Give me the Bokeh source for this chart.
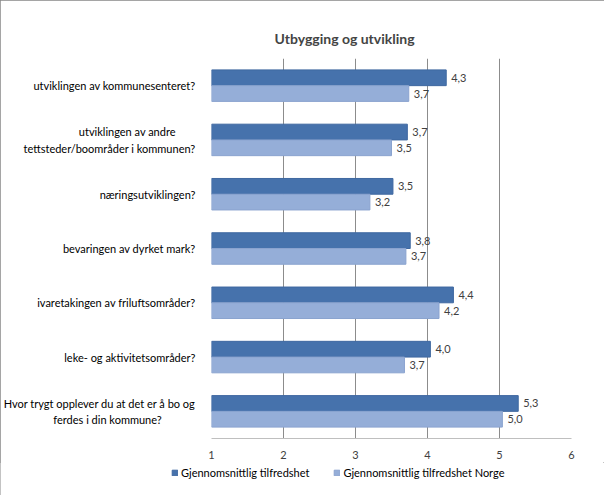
from bokeh.plotting import figure
from bokeh.layouts import column, row
from bokeh.models import Range1d, Legend, LegendItem, ColumnDataSource, FixedTicker
from bokeh.core.properties import value
from bokeh.embed import file_html
from bokeh.resources import INLINE

categories = [
    "utviklingen av kommunesenteret?",
    "utviklingen av andre tettsteder/boområder i kommunen?",
    "næringsutviklingen?",
    "bevaringen av dyrket mark?",
    "ivaretakingen av friluftsområder?",
    "leke- og aktivitetsområder?",
    "Hvor trygt opplever du at det er å bo og ferdes i din kommune?",
]
# label lines as wrapped in the chart
category_lines = [
    ["utviklingen av kommunesenteret?"],
    ["utviklingen av andre", "tettsteder/boområder i kommunen?"],
    ["næringsutviklingen?"],
    ["bevaringen av dyrket mark?"],
    ["ivaretakingen av friluftsområder?"],
    ["leke- og aktivitetsområder?"],
    ["Hvor trygt opplever du at det er å bo og", "ferdes i din kommune?"],
]
snitt = [4.26, 3.72, 3.52, 3.76, 4.36, 4.04, 5.26]
snitt_norge = [3.74, 3.50, 3.20, 3.70, 4.16, 3.68, 5.04]
series_names = ["Gjennomsnittlig tilfredshet", "Gjennomsnittlig tilfredshet Norge"]
x_ticks = [1, 2, 3, 4, 5, 6]
title_text = "Utbygging og utvikling"

FONT = "Lato"
DARK = "#4672AC"
LIGHT = "#95AED8"
DARK_LINE = "#3F68A0"
LIGHT_LINE = "#8AA3CF"
N = len(categories)
OFF = 0.145        # dodge of each bar from the category centre
LINE = 0.152       # half line spacing for wrapped labels (category units)
NB = "\u00a0"
# padding (non-breaking spaces) to centre short wrapped lines under the long one
PAD = {"utviklingen av andre": 7, "ferdes i din kommune?": 12}

def fmt(v):
    return f"{v:.1f}".replace(".", ",")

ypos = [N - i - 0.5 for i in range(N)]

src = ColumnDataSource(dict(
    ya=[y + OFF for y in ypos],
    yb=[y - OFF for y in ypos],
    a=snitt,
    b=snitt_norge,
    a_lbl=[fmt(v) for v in snitt],
    b_lbl=[fmt(v) for v in snitt_norge],
))

# ---------- main chart ----------
p = figure(
    width=604, height=462,
    y_range=Range1d(0, N),
    x_range=Range1d(1, 6),
    output_backend="svg", toolbar_location=None,
    min_border_left=208, min_border_right=33,
    min_border_top=58, min_border_bottom=24,
)

p.title.text = title_text
p.title.text_font = FONT
p.title.text_font_size = "14px"
p.title.text_font_style = "bold"
p.title.align = "left"
p.title.offset = 63
p.title.standoff = 24

p.hbar(y="ya", left=1, right="a", height=0.29,
       source=src, fill_color=DARK, line_color=DARK_LINE, line_width=1)
p.hbar(y="yb", left=1, right="b", height=0.29,
       source=src, fill_color=LIGHT, line_color=LIGHT_LINE, line_width=1)

p.text(x="a", y="ya", text="a_lbl", source=src,
       x_offset=5, text_baseline="middle", text_font=value(FONT), text_font_size="11px",
       text_color="#404040")
p.text(x="b", y="yb", text="b_lbl", source=src,
       x_offset=5, text_baseline="middle", text_font=value(FONT), text_font_size="11px",
       text_color="#404040")

p.xaxis.ticker = x_ticks
p.xaxis.axis_line_color = "#BFBFBF"
p.xaxis.major_tick_line_color = None
p.xaxis.minor_tick_line_color = None
p.xaxis.major_label_text_font = FONT
p.xaxis.major_label_text_font_size = "11px"
p.xaxis.major_label_text_color = "#404040"
p.xaxis.major_label_standoff = 6

ticks, overrides = [], {}
for y, lines in zip(ypos, category_lines):
    n = len(lines)
    for j, line in enumerate(lines):
        t = round(y + (n - 1) * LINE - 2 * LINE * j, 4)
        ticks.append(t)
        overrides[t] = line + NB * PAD.get(line, 0)
p.yaxis.ticker = FixedTicker(ticks=ticks)
p.yaxis.major_label_overrides = overrides
p.yaxis.axis_line_color = None
p.yaxis.major_tick_line_color = None
p.yaxis.minor_tick_line_color = None
p.yaxis.major_label_text_font = FONT
p.yaxis.major_label_text_font_size = "11px"
p.yaxis.major_label_text_color = "#000000"
p.yaxis.major_label_standoff = 10

p.xgrid.ticker = x_ticks
p.xgrid.grid_line_color = "#8C8C8C"
p.ygrid.grid_line_color = None
p.outline_line_color = None

# ---------- legend strip ----------
q = figure(
    width=604, height=33,
    x_range=Range1d(0, 1), y_range=Range1d(-3, -2),
    output_backend="svg", toolbar_location=None,
    x_axis_location=None, y_axis_location=None,
    min_border=0, min_border_left=0, min_border_right=0,
    min_border_top=0, min_border_bottom=0,
)
q.xgrid.grid_line_color = None
q.ygrid.grid_line_color = None
q.outline_line_color = None
# key renderers share the chart data but lie outside this strip's visible range
k1 = q.hbar(y="ya", left=1, right="a", height=0.29, source=src,
            fill_color=DARK, line_color=DARK_LINE)
k2 = q.hbar(y="yb", left=1, right="b", height=0.29, source=src,
            fill_color=LIGHT, line_color=LIGHT_LINE)
legend = Legend(
    items=[LegendItem(label=series_names[0], renderers=[k1], index=0),
           LegendItem(label=series_names[1], renderers=[k2], index=0)],
    orientation="horizontal", location=(171, 16),
    glyph_width=7, glyph_height=7, label_standoff=3, spacing=24,
    padding=0, margin=0, border_line_color=None, background_fill_alpha=0,
    label_text_font=FONT, label_text_font_size="11px", label_text_color="#000000",
    label_height=12,
)
q.add_layout(legend, "center")

layout = column(p, row(q), spacing=0,
                styles={"outline": "1px solid #878787", "outline-offset": "-1px"})

open("out.html", "w").write(file_html(layout, INLINE))
